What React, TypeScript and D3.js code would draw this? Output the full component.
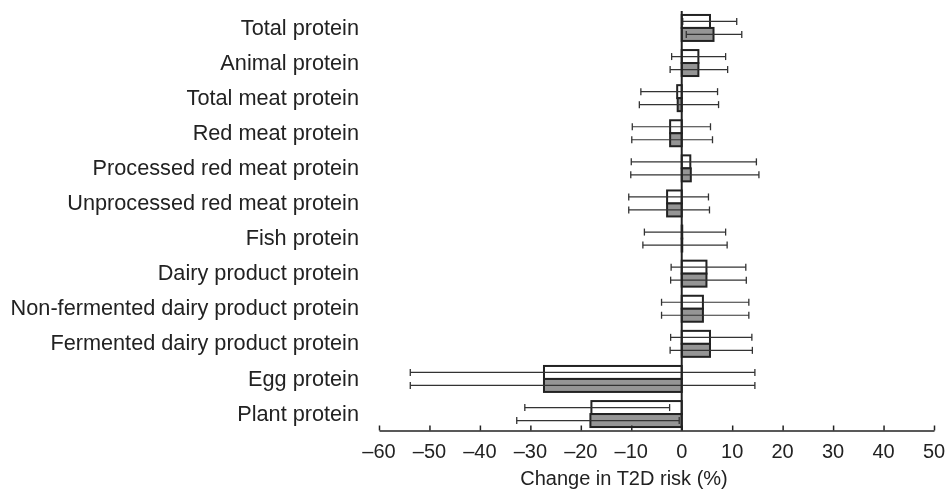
import * as d3 from 'd3';
import React, { useRef, useEffect } from 'react';

// categories, top to bottom
const categories = [
  'Total protein',
  'Animal protein',
  'Total meat protein',
  'Red meat protein',
  'Processed red meat protein',
  'Unprocessed red meat protein',
  'Fish protein',
  'Dairy product protein',
  'Non-fermented dairy product protein',
  'Fermented dairy product protein',
  'Egg protein',
  'Plant protein',
];

// white (upper) bar: estimate, lower CI, upper CI
const whiteValue = [5.6, 3.3, -0.9, -2.3, 1.7, -2.9, 0.1, 4.9, 4.2, 5.6, -27.3, -17.9];
const whiteLow = [0.2, -2.0, -8.1, -9.8, -10.0, -10.5, -7.4, -2.1, -4.0, -2.2, -53.8, -31.1];
const whiteHigh = [10.9, 8.7, 7.1, 5.7, 14.8, 5.3, 8.7, 12.7, 13.3, 13.9, 14.5, -2.4];

// grey (lower) bar
const greyValue = [6.3, 3.3, -0.8, -2.3, 1.8, -2.9, 0.1, 4.9, 4.2, 5.6, -27.3, -18.1];
const greyLow = [0.9, -2.3, -8.4, -9.9, -10.1, -10.5, -7.7, -2.2, -4.0, -2.3, -53.8, -32.7];
const greyHigh = [11.9, 9.1, 7.3, 6.1, 15.3, 5.5, 9.0, 12.8, 13.3, 14.0, 14.5, -0.5];

const xTicks = [-60, -50, -40, -30, -20, -10, 0, 10, 20, 30, 40, 50];

const App = () => {
  const ref = useRef(null);

  useEffect(() => {
    const width = 946;
    const height = 489;
    const font = '"Liberation Sans", Arial, sans-serif';

    d3.select(ref.current).select('svg').remove();
    const svg = d3.select(ref.current)
      .append('svg')
      .attr('width', width)
      .attr('height', height)
      .style('display', 'block');

    const x = d3.scaleLinear().domain([-60, 50]).range([379, 934]);
    const axisY = 430.5;

    // each row is a pair of bars
    const y = d3.scaleBand()
      .domain(categories)
      .range([10.4, 431.6])
      .paddingInner(0.26)
      .paddingOuter(0.13);
    const barH = y.bandwidth() / 2;

    const rows = categories.map((c, i) => ({
      c,
      series: [
        { v: whiteValue[i], lo: whiteLow[i], hi: whiteHigh[i], fill: '#ffffff', off: 0 },
        { v: greyValue[i], lo: greyLow[i], hi: greyHigh[i], fill: '#959595', off: barH },
      ],
    }));

    // labels
    svg.append('g')
      .selectAll('text')
      .data(categories)
      .enter().append('text')
      .attr('x', 359)
      .attr('y', (d) => y(d) + y.bandwidth() / 2 - 1)
      .attr('dy', '0.35em')
      .attr('text-anchor', 'end')
      .style('font-family', font)
      .style('font-size', '21.7px')
      .style('fill', '#222')
      .text((d) => d);

    const g = svg.append('g')
      .selectAll('g')
      .data(rows)
      .enter().append('g');

    const bars = g.selectAll('g.s')
      .data((d) => d.series.map((s) => ({ ...s, c: d.c })))
      .enter().append('g').attr('class', 's');

    bars.append('rect')
      .attr('x', (d) => x(Math.min(0, d.v)))
      .attr('y', (d) => y(d.c) + d.off)
      .attr('width', (d) => Math.abs(x(d.v) - x(0)))
      .attr('height', barH)
      .attr('fill', (d) => d.fill)
      .attr('stroke', '#222')
      .attr('stroke-width', 2);

    // error bars
    bars.append('line')
      .attr('x1', (d) => x(d.lo))
      .attr('x2', (d) => x(d.hi))
      .attr('y1', (d) => y(d.c) + d.off + barH / 2)
      .attr('y2', (d) => y(d.c) + d.off + barH / 2)
      .attr('stroke', '#333')
      .attr('stroke-width', 1.2);

    ['lo', 'hi'].forEach((k) => {
      bars.append('line')
        .attr('x1', (d) => x(d[k]))
        .attr('x2', (d) => x(d[k]))
        .attr('y1', (d) => y(d.c) + d.off + barH / 2 - 3.5)
        .attr('y2', (d) => y(d.c) + d.off + barH / 2 + 3.5)
        .attr('stroke', '#333')
        .attr('stroke-width', 1.3);
    });

    // zero line
    svg.append('line')
      .attr('x1', x(0)).attr('x2', x(0))
      .attr('y1', 11).attr('y2', axisY)
      .attr('stroke', '#222')
      .attr('stroke-width', 2);

    // x axis, ticks pointing up
    const axis = svg.append('g')
      .attr('transform', `translate(0, ${axisY})`)
      .call(d3.axisTop(x).tickValues(xTicks).tickSize(5).tickSizeOuter(0).tickFormat(() => ''));
    axis.select('.domain').attr('stroke', '#222').attr('stroke-width', 1.5);
    axis.selectAll('.tick line').attr('stroke', '#222').attr('stroke-width', 1.5);

    svg.append('g')
      .selectAll('text')
      .data(xTicks)
      .enter().append('text')
      .attr('x', (d) => x(d))
      .attr('y', 458)
      .attr('text-anchor', 'middle')
      .style('font-family', font)
      .style('font-size', '20px')
      .style('fill', '#222')
      .text((d) => (d < 0 ? '\u2013' + Math.abs(d) : String(d)));

    svg.append('text')
      .attr('x', 624)
      .attr('y', 485)
      .attr('text-anchor', 'middle')
      .style('font-family', font)
      .style('font-size', '20px')
      .style('fill', '#222')
      .text('Change in T2D risk (%)');
  }, []);

  return <div ref={ref} style={{ position: 'fixed', top: 0, left: 0 }}></div>;
};

export default App;
